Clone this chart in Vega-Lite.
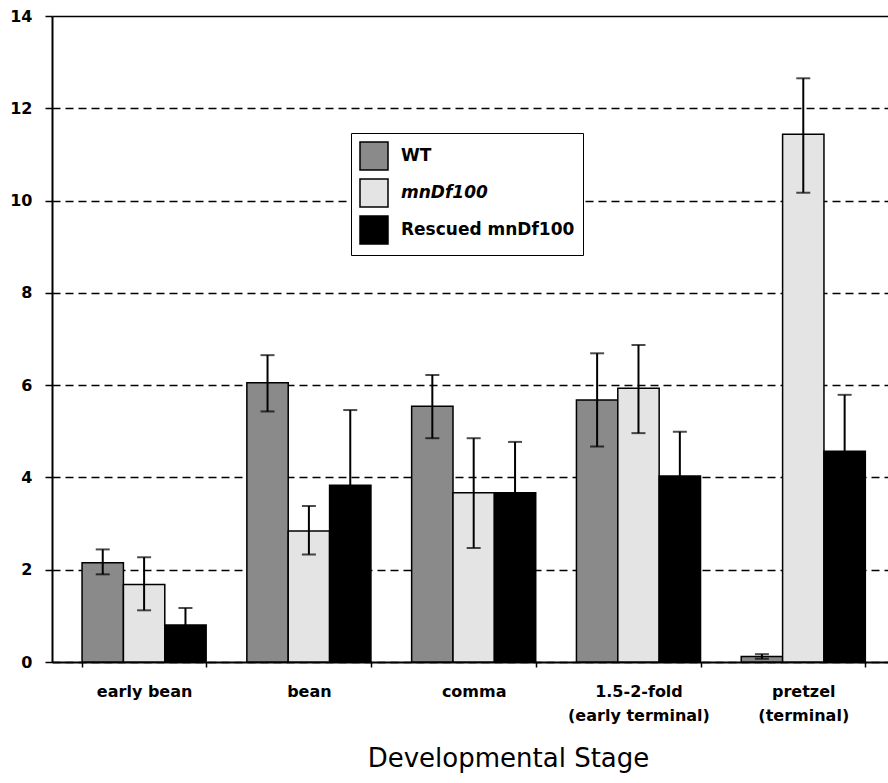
{
  "$schema": "https://vega.github.io/schema/vega-lite/v6.json",
  "width": 836,
  "height": 646,
  "autosize": {"type": "none"},
  "padding": {"left": 52, "top": 16, "right": 0, "bottom": 121},
  "background": "white",
  "config": {
    "font": "DejaVu Sans",
    "view": {"stroke": null}
  },
  "data": {
    "values": [
      {"stage": "early bean", "genotype": "WT", "value": 2.15, "lo": 1.90, "hi": 2.44},
      {"stage": "early bean", "genotype": "mnDf100", "value": 1.68, "lo": 1.12, "hi": 2.27},
      {"stage": "early bean", "genotype": "Rescued mnDf100", "value": 0.80, "lo": 0.43, "hi": 1.17},
      {"stage": "bean", "genotype": "WT", "value": 6.05, "lo": 5.43, "hi": 6.65},
      {"stage": "bean", "genotype": "mnDf100", "value": 2.84, "lo": 2.33, "hi": 3.38},
      {"stage": "bean", "genotype": "Rescued mnDf100", "value": 3.83, "lo": 2.20, "hi": 5.46},
      {"stage": "comma", "genotype": "WT", "value": 5.54, "lo": 4.85, "hi": 6.22},
      {"stage": "comma", "genotype": "mnDf100", "value": 3.67, "lo": 2.47, "hi": 4.85},
      {"stage": "comma", "genotype": "Rescued mnDf100", "value": 3.67, "lo": 2.57, "hi": 4.77},
      {"stage": "1.5-2-fold (early terminal)", "genotype": "WT", "value": 5.68, "lo": 4.67, "hi": 6.69},
      {"stage": "1.5-2-fold (early terminal)", "genotype": "mnDf100", "value": 5.93, "lo": 4.96, "hi": 6.87},
      {"stage": "1.5-2-fold (early terminal)", "genotype": "Rescued mnDf100", "value": 4.03, "lo": 3.07, "hi": 4.99},
      {"stage": "pretzel (terminal)", "genotype": "WT", "value": 0.12, "lo": 0.07, "hi": 0.17},
      {"stage": "pretzel (terminal)", "genotype": "mnDf100", "value": 11.44, "lo": 10.17, "hi": 12.65},
      {"stage": "pretzel (terminal)", "genotype": "Rescued mnDf100", "value": 4.57, "lo": 3.35, "hi": 5.79}
    ]
  },
  "encoding": {
    "x": {
      "field": "stage",
      "type": "nominal",
      "scale": {
        "domain": ["early bean", "bean", "comma", "1.5-2-fold (early terminal)", "pretzel (terminal)"],
        "paddingInner": 0.247,
        "paddingOuter": 0.16,
        "align": 0.57
      },
      "axis": {
        "title": "Developmental Stage",
        "titleFont": "DejaVu Sans",
        "titleFontSize": 26,
        "titleFontWeight": "normal",
        "titleColor": "black",
        "titleX": 456,
        "titleY": 104,
        "titleAlign": "center",
        "titleBaseline": "alphabetic",
        "labelAngle": 0,
        "labelFont": "DejaVu Sans",
        "labelFontSize": 16,
        "labelFontWeight": "bold",
        "labelColor": "black",
        "labelBaseline": "middle",
        "labelLineHeight": 24,
        "labelPadding": 24,
        "labelLimit": 300,
        "labelExpr": "indexof(datum.label, ' (') > 0 ? [substring(datum.label, 0, indexof(datum.label, ' (')), substring(datum.label, indexof(datum.label, ' (') + 1)] : datum.label",
        "domainColor": "black",
        "domainWidth": 2,
        "tickBand": "extent",
        "tickSize": 5,
        "tickColor": "black",
        "tickWidth": 1.5
      }
    },
    "xOffset": {
      "field": "genotype",
      "type": "nominal",
      "scale": {"domain": ["WT", "mnDf100", "Rescued mnDf100"], "paddingInner": 0, "paddingOuter": 0}
    }
  },
  "layer": [
    {
      "mark": {"type": "bar", "stroke": "black", "strokeWidth": 1.5},
      "encoding": {
        "y": {
          "field": "value",
          "type": "quantitative",
          "scale": {"domain": [0, 14], "nice": false},
          "axis": {
            "title": null,
            "values": [0, 2, 4, 6, 8, 10, 12, 14],
            "labelFont": "DejaVu Sans",
            "labelFontSize": 16,
            "labelFontWeight": "bold",
            "labelColor": "black",
            "labelPadding": 13,
            "tickSize": 7,
            "tickColor": "black",
            "tickWidth": 1.5,
            "domainColor": "black",
            "domainWidth": 2,
            "grid": true,
            "gridColor": "black",
            "gridWidth": 1.5,
            "gridOpacity": 1,
            "gridDash": {"condition": {"test": "datum.value == 14", "value": []}, "value": [8, 5]}
          }
        },
        "fill": {
          "field": "genotype",
          "type": "nominal",
          "scale": {
            "domain": ["WT", "mnDf100", "Rescued mnDf100"],
            "range": ["#8a8a8a", "#e4e4e4", "#000000"]
          },
          "legend": {
            "title": null,
            "orient": "none",
            "legendX": 299,
            "legendY": 117,
            "strokeColor": "black",
            "padding": 8,
            "fillColor": "white",
            "symbolType": "square",
            "symbolSize": 784,
            "symbolStrokeColor": "black",
            "symbolStrokeWidth": 1.5,
            "labelFont": "DejaVu Sans",
            "labelFontSize": 17,
            "labelFontWeight": "bold",
            "labelFontStyle": {"expr": "datum.label == 'mnDf100' ? 'italic' : 'normal'"},
            "labelColor": "black",
            "labelOffset": 12,
            "labelLimit": 300,
            "rowPadding": 3
          }
        }
      }
    },
    {
      "mark": {"type": "rule", "color": "black", "strokeWidth": 2},
      "encoding": {
        "y": {"field": "lo", "type": "quantitative"},
        "y2": {"field": "hi"}
      }
    },
    {
      "mark": {"type": "tick", "color": "black", "thickness": 2, "size": 14, "orient": "horizontal"},
      "encoding": {
        "y": {"field": "lo", "type": "quantitative"}
      }
    },
    {
      "mark": {"type": "tick", "color": "black", "thickness": 2, "size": 14, "orient": "horizontal"},
      "encoding": {
        "y": {"field": "hi", "type": "quantitative"}
      }
    }
  ]
}
